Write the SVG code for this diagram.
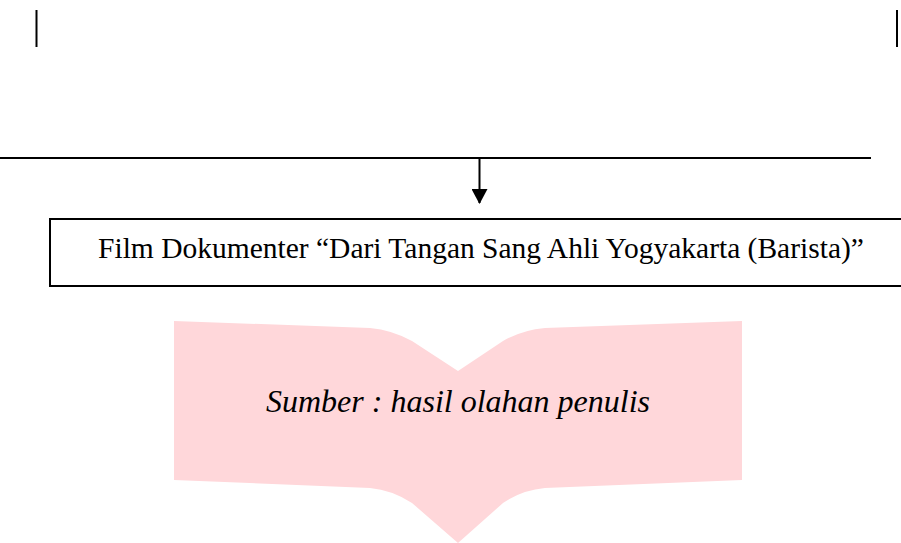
<svg xmlns="http://www.w3.org/2000/svg" width="901" height="543" viewBox="0 0 901 543">
<style>
.ln{stroke:#000;stroke-width:2;fill:none}
.t{font-family:"Liberation Serif","Times New Roman",serif;fill:#000}
</style>
<defs>
<marker id="ah" markerWidth="16" markerHeight="16" refX="14" refY="8" orient="auto" markerUnits="userSpaceOnUse">
<path d="M0,0 L15,8 L0,16 Z" fill="#000"/>
</marker>
</defs>
<rect width="901" height="543" fill="#fff"/>
<g id="connectors">
<line class="ln" x1="36.5" y1="10" x2="36.5" y2="47"/>
<line class="ln" x1="897" y1="10" x2="897" y2="47"/>
<line class="ln" x1="0" y1="158" x2="871" y2="158"/>
<line class="ln" x1="479.5" y1="158" x2="479.5" y2="203" marker-end="url(#ah)"/>
</g>
<g id="node-film">
<rect x="50" y="219" width="860" height="67" fill="#fff" stroke="#000" stroke-width="2"/>
<text class="t" x="481" y="258" font-size="29.5" text-anchor="middle">Film Dokumenter “Dari Tangan Sang Ahli Yogyakarta (Barista)”</text>
</g>
<g id="node-sumber">
<path d="M174,321 L370,328 Q392,330 412,341 L458,371 L503,341 Q522,330 545,328 L742,321 L742,480 L545,488 Q522,490 503,503 L458,543 L412,503 Q392,490 370,488 L174,480 Z" fill="#FFD7DA"/>
<text class="t" x="458" y="412" font-size="32" font-style="italic" text-anchor="middle">Sumber : hasil olahan penulis</text>
</g>
</svg>
